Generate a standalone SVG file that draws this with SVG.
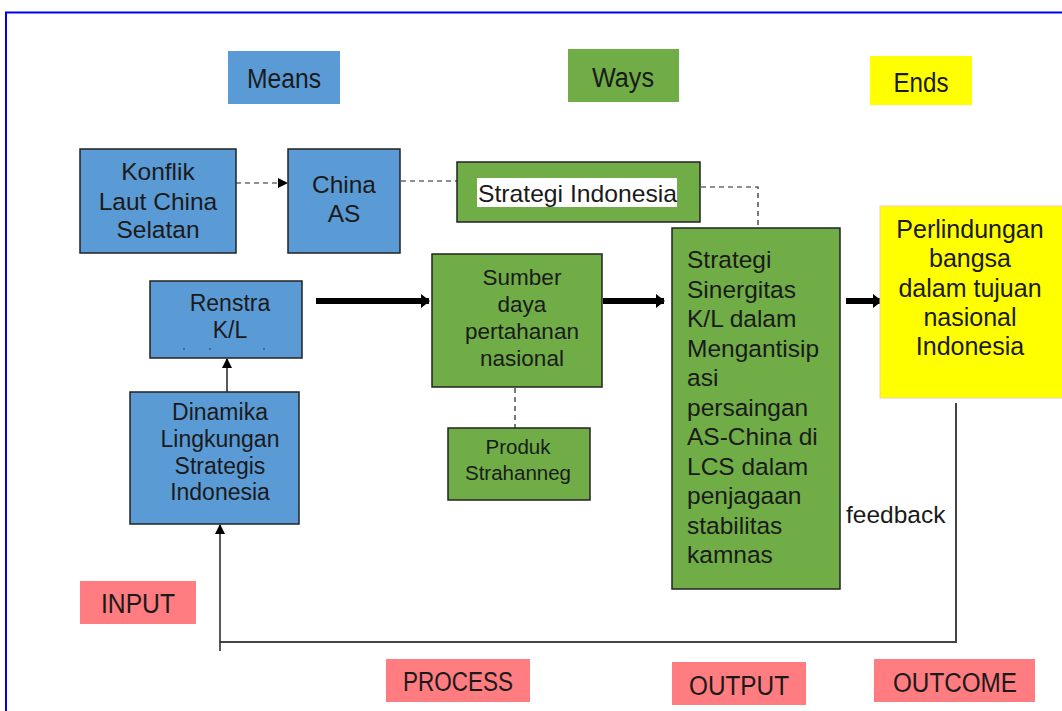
<svg xmlns="http://www.w3.org/2000/svg" width="1062" height="711" viewBox="0 0 1062 711">
<style>
text{font-family:"Liberation Sans",Arial,sans-serif;fill:#1a1a1a}
.blue{fill:#5b9bd5;stroke:#222;stroke-width:1.5}
.green{fill:#70ad47;stroke:#222;stroke-width:1.5}
.hdr{font-size:27px}
.c{text-anchor:middle}
.dash{fill:none;stroke:#222;stroke-width:1.2;stroke-dasharray:5,4}
.thick{fill:none;stroke:#000;stroke-width:6}
.thin{fill:none;stroke:#222;stroke-width:1.5}
</style>
<defs>
<marker id="ah" markerWidth="10" markerHeight="10" refX="9" refY="5" orient="auto" markerUnits="userSpaceOnUse"><path d="M0,0 L10,5 L0,10 Z" fill="#000"/></marker>
<marker id="ahT" markerWidth="9" markerHeight="14" refX="8" refY="7" orient="auto" markerUnits="userSpaceOnUse"><path d="M0,0 L9,7 L0,14 Z" fill="#000"/></marker>
</defs>
<rect x="0" y="0" width="1062" height="711" fill="#fff"/>
<path d="M6,711 V12.5 H1062" fill="none" stroke="#0000ee" stroke-width="2"/>

<g id="means"><rect x="228" y="51" width="112" height="53" fill="#5b9bd5"/><text class="hdr c" x="284" y="88" textLength="74" lengthAdjust="spacingAndGlyphs">Means</text></g>
<g id="ways"><rect x="568" y="49" width="111" height="53" fill="#70ad47"/><text class="hdr c" x="623" y="87" textLength="62" lengthAdjust="spacingAndGlyphs">Ways</text></g>
<g id="ends"><rect x="870" y="56" width="102" height="49" fill="#ffff00"/><text class="hdr c" x="921" y="92" textLength="55" lengthAdjust="spacingAndGlyphs">Ends</text></g>

<g id="connectors">
<path class="dash" d="M236,183 H287" marker-end="url(#ah)"/>
<path class="dash" d="M401,181 H457"/>
<path class="dash" d="M701,187 H758 V228"/>
<path class="dash" d="M515,388 V428"/>
<path class="thin" d="M227,392 V359" marker-end="url(#ah)"/>
<path class="thick" d="M316,301 H429" marker-end="url(#ahT)"/>
<path class="thick" d="M603,301 H664" marker-end="url(#ahT)"/>
<path class="thick" d="M846,301 H881" marker-end="url(#ahT)"/>
<path d="M956,403 V642 H220" fill="none" stroke="#444" stroke-width="2"/>
<path class="thin" d="M220,651 V525" marker-end="url(#ah)"/>
</g>

<g id="konflik"><rect class="blue" x="80" y="149" width="156" height="104"/>
<text class="c" font-size="24.5" x="158" y="180">Konflik</text>
<text class="c" font-size="24.5" x="158" y="210">Laut China</text>
<text class="c" font-size="24.5" x="158" y="238">Selatan</text></g>

<g id="china-as"><rect class="blue" x="288" y="149" width="112" height="104"/>
<text class="c" font-size="24.5" x="344" y="193">China</text>
<text class="c" font-size="24.5" x="344" y="222">AS</text></g>

<g id="strategi-indonesia"><rect class="green" x="457" y="162" width="243" height="60"/>
<rect x="477" y="178" width="200" height="29" fill="#fff"/>
<text font-size="24" x="478" y="202" textLength="199" lengthAdjust="spacingAndGlyphs">Strategi Indonesia</text></g>

<g id="renstra"><rect class="blue" x="150" y="281" width="152" height="77"/>
<text class="c" font-size="23" x="230" y="311">Renstra</text>
<text class="c" font-size="23" x="230" y="338">K/L</text>
<g fill="#333"><circle cx="184" cy="349" r="0.8"/><circle cx="210" cy="349" r="0.8"/><circle cx="264" cy="349" r="0.8"/></g></g>

<g id="dinamika"><rect class="blue" x="130" y="392" width="169" height="132"/>
<text class="c" font-size="23" x="220" y="420">Dinamika</text>
<text class="c" font-size="23" x="220" y="447">Lingkungan</text>
<text class="c" font-size="23" x="220" y="474">Strategis</text>
<text class="c" font-size="23" x="220" y="500">Indonesia</text></g>

<g id="sumber"><rect class="green" x="432" y="254" width="170" height="133"/>
<text class="c" font-size="22.5" x="522" y="285">Sumber</text>
<text class="c" font-size="22.5" x="522" y="312">daya</text>
<text class="c" font-size="22.5" x="522" y="339">pertahanan</text>
<text class="c" font-size="22.5" x="522" y="366">nasional</text></g>

<g id="produk"><rect class="green" x="448" y="428" width="142" height="72"/>
<text class="c" font-size="20.5" x="518" y="454">Produk</text>
<text class="c" font-size="20.5" x="518" y="480">Strahanneg</text></g>

<g id="sinergitas"><rect class="green" x="672" y="228" width="168" height="361"/>
<g font-size="24.5">
<text x="687" y="268">Strategi</text>
<text x="687" y="297.5">Sinergitas</text>
<text x="687" y="327">K/L dalam</text>
<text x="687" y="356.5">Mengantisip</text>
<text x="687" y="386">asi</text>
<text x="687" y="415.5">persaingan</text>
<text x="687" y="445">AS-China di</text>
<text x="687" y="474.5">LCS dalam</text>
<text x="687" y="504">penjagaan</text>
<text x="687" y="533.5">stabilitas</text>
<text x="687" y="563">kamnas</text></g></g>

<g id="perlindungan"><rect x="880" y="206" width="183" height="192" fill="#ffff00" stroke="#f8cbad" stroke-width="1"/>
<text class="c" font-size="25" x="970" y="238">Perlindungan</text>
<text class="c" font-size="25" x="970" y="267">bangsa</text>
<text class="c" font-size="25" x="970" y="297">dalam tujuan</text>
<text class="c" font-size="25" x="970" y="326">nasional</text>
<text class="c" font-size="25" x="970" y="355">Indonesia</text></g>

<g id="feedback-label"><text font-size="24.5" x="846" y="523">feedback</text></g>

<g id="input"><rect x="80" y="581" width="116" height="43" fill="#ff7c80"/><text class="hdr c" x="138" y="613" textLength="74" lengthAdjust="spacingAndGlyphs">INPUT</text></g>
<g id="process"><rect x="386" y="659" width="144" height="43" fill="#ff7c80"/><text class="hdr c" x="458" y="691" textLength="110" lengthAdjust="spacingAndGlyphs">PROCESS</text></g>
<g id="output"><rect x="672" y="662" width="134" height="43" fill="#ff7c80"/><text class="hdr c" x="739" y="695" textLength="100" lengthAdjust="spacingAndGlyphs">OUTPUT</text></g>
<g id="outcome"><rect x="874" y="659" width="161" height="43" fill="#ff7c80"/><text class="hdr c" x="955" y="692" textLength="124" lengthAdjust="spacingAndGlyphs">OUTCOME</text></g>
</svg>
